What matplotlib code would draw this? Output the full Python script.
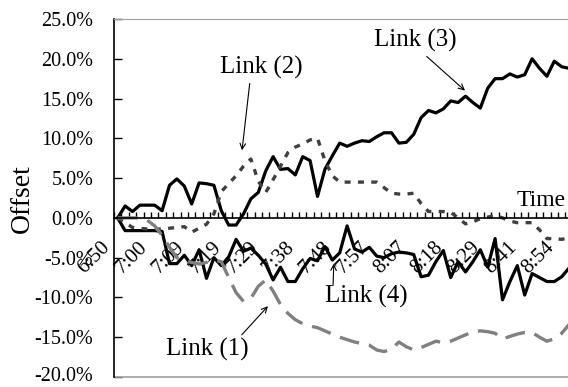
import matplotlib.pyplot as plt
from matplotlib.transforms import ScaledTranslation

plt.rcParams['font.family'] = ['Liberation Serif', 'DejaVu Serif']
plt.rcParams['axes.unicode_minus'] = False

# category labels, one every 5 samples
times = ['6:50', '7:00', '7:09', '7:19', '7:29', '7:38', '7:48',
         '7:57', '8:07', '8:18', '8:29', '8:41', '8:54']

# offsets in percent
link1 = [0, 0, 0, 0, -0.3, -1.0, -2.2, -3.7, -5.0, -5.4,
         -5.6, -5.8, -5.6, -5.3, -5.5, -7.5, -9.4, -10.5, -10.1, -8.6,
         -7.8, -9.2, -10.9, -12.0, -12.8, -13.3, -13.6, -13.8, -14.2, -14.6,
         -15.0, -15.3, -15.6, -15.8, -16.0, -16.6, -16.8, -16.5, -15.6, -16.2,
         -16.6, -16.3, -15.9, -15.5, -15.7, -15.5, -15.1, -14.7, -14.3, -14.2,
         -14.3, -14.5, -15.2, -14.9, -14.6, -14.4, -14.4, -15.0, -15.5, -15.2,
         -14.5, -13.4]
link2 = [0, -0.6, -1.2, -1.3, -1.4, -1.4, -1.4, -1.3, -1.2, -1.1,
         -1.8, -1.3, -0.8, 0.5, 3.3, 4.3, 5.3, 6.5, 7.4, 4.6,
         3.2, 4.8, 6.5, 8.2, 8.9, 9.3, 9.8, 10.0, 7.2, 5.3,
         4.5, 4.5, 4.5, 4.5, 4.5, 4.5, 3.8, 3.1, 3.0, 3.0,
         3.1, 1.8, 0.8, 0.8, 0.8, 0.7, 0.0, -0.75, -0.5, -0.1,
         0.1, 0.3, 0.0, -0.4, -0.6, -0.6, -0.6, -1.5, -2.6, -2.6,
         -2.7, -2.5]
link3 = [0, 1.5, 0.8, 1.6, 1.6, 1.6, 0.9, 4.1, 4.9, 4.0,
         1.75, 4.4, 4.3, 4.1, 0.9, -0.9, -0.9, 0.5, 2.4, 3.2,
         5.9, 7.7, 6.1, 6.2, 5.4, 7.7, 7.2, 2.7, 6.1, 7.8,
         9.4, 9.0, 9.4, 9.7, 9.6, 10.2, 10.7, 10.7, 9.4, 9.5,
         10.5, 12.6, 13.5, 13.2, 13.7, 14.7, 14.5, 15.3, 14.5, 13.8,
         16.3, 17.5, 17.5, 18.1, 17.7, 18.0, 20.0, 18.8, 17.8, 19.7,
         19.0, 18.8]
link4 = [0, -1.6, -1.6, -1.6, -1.6, -1.6, -1.7, -5.75, -5.75, -4.7,
         -6.0, -4.0, -7.6, -5.0, -6.0, -4.9, -2.7, -4.2, -3.8, -4.7,
         -5.8, -7.8, -6.2, -8.0, -8.0, -6.4, -5.1, -5.4, -3.6, -5.3,
         -4.4, -1.0, -3.9, -4.3, -3.7, -4.8, -5.0, -4.5, -4.3, -4.4,
         -4.6, -7.4, -7.2, -5.5, -4.1, -7.5, -5.5, -6.8, -5.5, -4.0,
         -6.2, -2.6, -10.3, -8.0, -6.0, -9.7, -7.0, -7.5, -8.0, -8.0,
         -7.4, -6.3]

x = list(range(len(link3)))

fig = plt.figure(figsize=(5.68, 3.87), dpi=100)
ax = fig.add_axes([114/568, 10/387, 454/568, 358/387])

ax.plot(x, link3, color='black', lw=2.3)
ax.plot(x, link4, color='black', lw=2.3)
ax.plot(x, link2, color='#404040', lw=2.4, dashes=(1.8, 2.2))
ax.plot(x, link1, color='#808080', lw=2.4, dashes=(6, 3))

ax.set_xlim(-0.5, 60.85)
ax.set_ylim(-20, 25)

# spines: black y axis, x axis through zero, grey frame top/bottom
ax.spines['right'].set_visible(False)
ax.spines['top'].set_color('#a0a0a0')
ax.spines['left'].set_linewidth(1.2)
ax.spines['bottom'].set_position(('data', 0))
ax.spines['bottom'].set_linewidth(1.2)
ax.plot([0, 1], [0, 0], transform=ax.transAxes, color='#a0a0a0', lw=1.2, clip_on=False)

yt = list(range(-20, 26, 5))
ax.set_yticks(yt)
ax.set_yticklabels(['%.1f%%' % v for v in yt], fontsize=14.5)
ax.tick_params(axis='y', direction='in', length=6, width=1, pad=15)
# nudge the lowest label so it stays inside the canvas
low = ax.get_yticklabels()[0]
low.set_transform(low.get_transform() + ScaledTranslation(0, 0.03, fig.dpi_scale_trans))

ax.set_xticks(list(range(0, 61, 5)))
ax.set_xticklabels(times, fontsize=15, rotation=45, ha='right', va='center',
                   rotation_mode='anchor')
ax.set_xticks([k - 0.5 for k in range(62)], minor=True)
ax.tick_params(axis='x', which='major', length=0, pad=0)
ax.tick_params(axis='x', which='minor', direction='in', length=4, width=1)
shift = ScaledTranslation(-0.105, -0.27, fig.dpi_scale_trans)
for lab in ax.get_xticklabels():
    lab.set_transform(lab.get_transform() + shift)

fig.text(22/568, 1 - 198.5/387, 'Offset', rotation=90, ha='center', va='center', fontsize=20)
ax.text(53.96, 1.5, 'Time', fontsize=17, ha='left', va='baseline')

# labels and arrows
arrow = dict(arrowstyle='->', lw=0.8, color='black', shrinkA=0, shrinkB=0)
ax.text(40.2, 22.25, 'Link (3)', fontsize=18, ha='center', va='center')
ax.annotate('', xy=(46.93, 16.0), xytext=(41.76, 20.29), arrowprops=arrow)
ax.text(19.4, 18.9, 'Link (2)', fontsize=18, ha='center', va='center')
ax.annotate('', xy=(16.8, 8.5), xytext=(17.84, 16.9), arrowprops=arrow)
ax.text(33.55, -9.9, 'Link (4)', fontsize=18, ha='center', va='center')
ax.annotate('', xy=(29.2, -5.75), xytext=(29.1, -8.5), arrowprops=arrow)
ax.text(12.1, -16.6, 'Link (1)', fontsize=18, ha='center', va='center')
ax.annotate('', xy=(20.3, -11.1), xytext=(16.76, -14.7), arrowprops=arrow)

fig.savefig('out.png', dpi=100)
